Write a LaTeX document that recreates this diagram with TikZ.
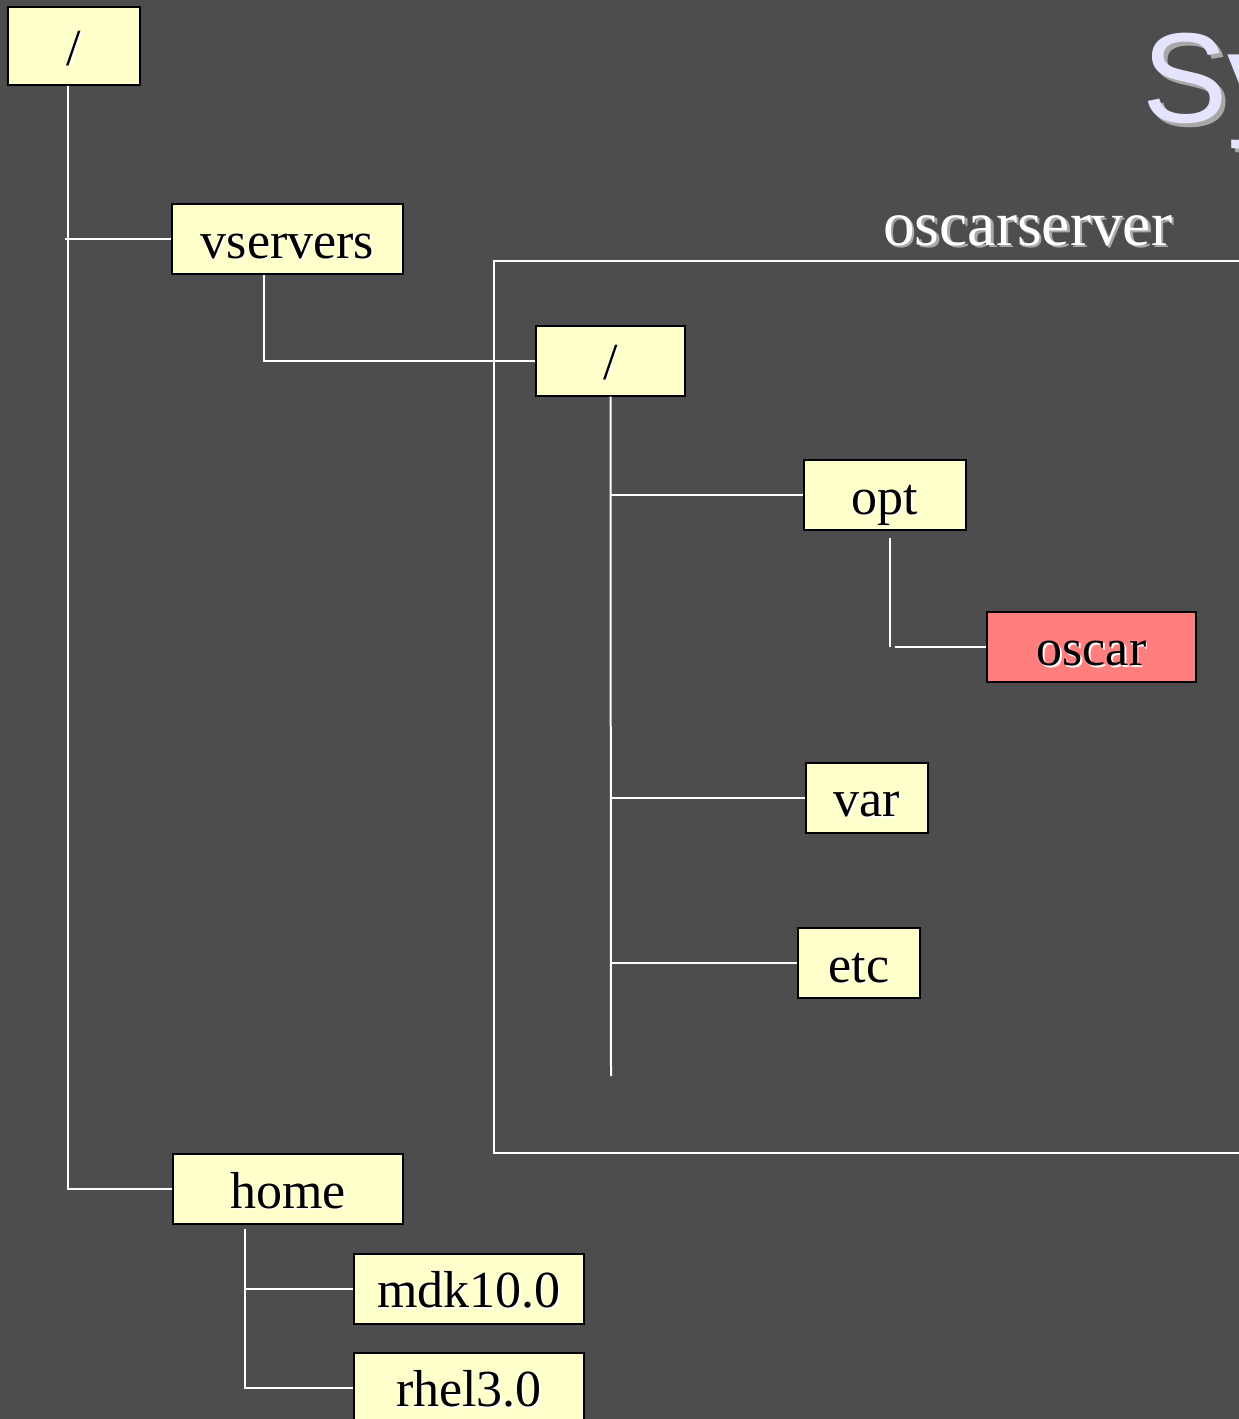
\documentclass[tikz,border=0pt]{standalone}
\usepackage{fontspec}
\setmainfont{Liberation Serif}
\newfontfamily\titlefont{Liberation Sans}
\definecolor{bg}{HTML}{4D4D4D}
\definecolor{boxfill}{HTML}{FFFFCC}
\definecolor{redfill}{HTML}{FF7F7F}
\definecolor{lav}{HTML}{E4E4FF}
\definecolor{shgray}{HTML}{A8A8A8}
\newcommand\shtxt[3]{\rlap{\textcolor{#1}{\kern#3\raisebox{-#3}{#2}}}#2}
\tikzset{
  dirbox/.style={draw=black, line width=2pt, fill=boxfill, inner sep=0pt,
    minimum height=70pt, text height=38pt, text depth=0pt,
    font=\fontsize{52}{60}\selectfont, text=black},
  hot/.style={dirbox, fill=redfill},
  link/.style={draw=white, line width=2pt},
}
\begin{document}
\begin{tikzpicture}[x=1pt,y=-1pt]
\useasboundingbox (0,0) rectangle (1239,1419);
\clip (0,0) rectangle (1239,1419);
\fill[bg] (0,0) rectangle (1239,1419);

% title fragment and container
\node[anchor=base west, inner sep=0pt, text=lav, font=\titlefont\fontsize{128}{140}\selectfont] (title) at (1142,122) {\shtxt{shgray}{Sy}{4pt}};
\node[draw=white, line width=2pt, minimum width=760pt, minimum height=892pt, inner sep=0pt] (server) at (874,707) {};
\node[anchor=base west, inner sep=0pt, text=white, font=\fontsize{63.5}{70}\selectfont] (serverlabel) at (883,245) {\shtxt{shgray}{oscarserver}{2.5pt}};

% nodes
\node[dirbox, minimum width=132pt, minimum height=78pt] (root) at (74,46) {\shtxt{white}{/}{1.5pt}};
\node[dirbox, minimum width=231pt] (vservers) at (287.5,239) {\shtxt{white}{vservers}{1.5pt}};
\node[dirbox, minimum width=149pt] (in) at (610.5,360.5) {\shtxt{white}{/}{1.5pt}};
\node[dirbox, minimum width=162pt] (opt) at (885,495) {\shtxt{white}{opt}{1.5pt}};
\node[hot, minimum width=209pt] (oscar) at (1091.5,646.5) {\shtxt{white}{oscar}{1.5pt}};
\node[dirbox, minimum width=122pt] (var) at (867,797.5) {\shtxt{white}{var}{1.5pt}};
\node[dirbox, minimum width=122pt] (etc) at (859,963) {\shtxt{white}{etc}{1.5pt}};
\node[dirbox, minimum width=230pt] (home) at (288,1189) {\shtxt{white}{home}{1.5pt}};
\node[dirbox, minimum width=230pt] (mdk) at (469,1288.5) {\shtxt{white}{mdk10.0}{1.5pt}};
\node[dirbox, minimum width=230pt] (rhel) at (469,1387.5) {\shtxt{white}{rhel3.0}{1.5pt}};

% connectors
\draw[link] ([xshift=-6pt]root.south) |- (home.west);
\draw[link] ([xshift=-9pt]root.south |- vservers.west) -- (vservers.west);
\draw[link] ([xshift=-23.5pt]vservers.south) |- (in.west);
\coordinate (inend) at (611,1076);
\draw[link] (in.south) -- (inend);
\draw[link] (in.south |- opt.west) -- (opt.west);
\draw[link] ([xshift=5pt,yshift=-7pt]opt.south) -- ([xshift=5pt]opt.south |- oscar.west);
\draw[link] ([xshift=10pt]opt.south |- oscar.west) -- (oscar.west);
\draw[link] (in.south |- var.west) -- (var.west);
\draw[link] (in.south |- etc.west) -- (etc.west);
\draw[link] ([xshift=-43pt,yshift=-4pt]home.south) |- (rhel.west);
\draw[link] ([xshift=-43pt]home.south |- mdk.west) -- (mdk.west);
\end{tikzpicture}
\end{document}
